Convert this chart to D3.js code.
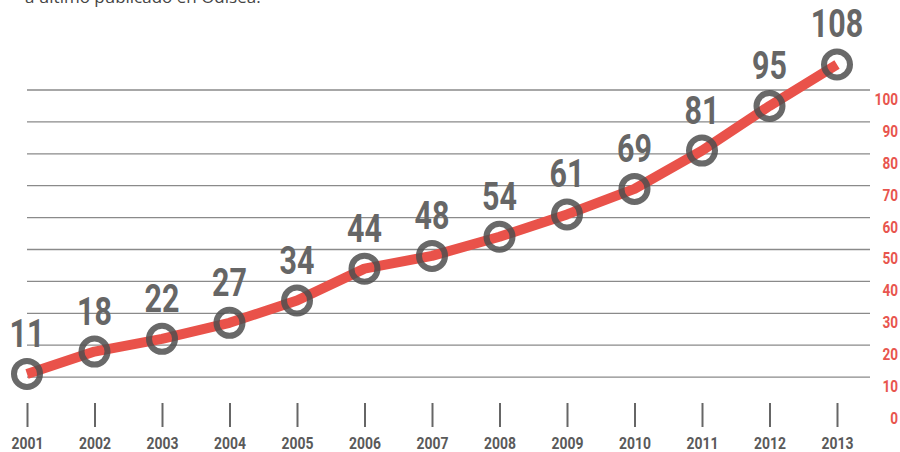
<!DOCTYPE html>
<html><head><meta charset="utf-8">
<script src="https://cdn.jsdelivr.net/npm/d3@7"></script>
<style>body{margin:0;background:#fff}svg{display:block}</style>
</head><body>
<svg id="c" width="900" height="452"></svg>
<script>
const years = ["2001","2002","2003","2004","2005","2006","2007","2008","2009","2010","2011","2012","2013"];
const values = [11,18,22,27,34,44,48,54,61,69,81,95,108];
const yTicks = [0,10,20,30,40,50,60,70,80,90,100];
const gridTicks = [10,20,30,40,50,60,70,80,90,100];
const caption = "a último publicado en Odisea.";

const svg = d3.select("#c");
const font = "Roboto,'Liberation Sans',sans-serif";
const x = d3.scalePoint().domain(years).range([27, 837]);
const y = d3.scaleLinear().domain([0, 100]).range([409, 90]);

svg.append("text").attr("x", 25).attr("y", 3)
  .attr("font-family", "'Open Sans',sans-serif").attr("font-size", 17).attr("fill", "#444")
  .text(caption);

// gridlines
svg.append("g").selectAll("line").data(gridTicks).join("line")
  .attr("x1", 27).attr("x2", 870)
  .attr("y1", d => y(d)).attr("y2", d => y(d))
  .attr("stroke", "#8a8a8a").attr("stroke-width", 1.3);

// right axis labels
const ra = d3.axisRight(y).tickValues(yTicks).tickSize(0).tickPadding(0);
const rg = svg.append("g").attr("transform", "translate(898,9)").call(ra);
rg.select(".domain").remove();
rg.selectAll("text").attr("text-anchor", "end").attr("x", 0)
  .attr("transform", "scale(0.8,1)")
  .attr("font-family", font).attr("font-weight", "bold").attr("font-size", 17).attr("fill", "#e8554e");

// bottom axis
const ba = d3.axisBottom(x).tickSize(24).tickPadding(10);
const bg = svg.append("g").attr("transform", "translate(0,403)").call(ba);
bg.select(".domain").remove();
bg.selectAll("line").attr("stroke", "#666").attr("stroke-width", 2);
bg.selectAll("text").attr("transform", "scale(0.82,1)")
  .attr("font-family", font).attr("font-weight", "bold")
  .attr("font-size", 17).attr("fill", "#5a5a5a");

// line
const line = d3.line().x((d, i) => x(years[i])).y(d => y(d));
svg.append("path").datum(values).attr("d", line)
  .attr("fill", "none").attr("stroke", "#e9524a").attr("stroke-width", 10)
  .attr("stroke-linejoin", "round");

// markers
svg.append("g").selectAll("circle").data(values).join("circle")
  .attr("cx", (d, i) => x(years[i])).attr("cy", d => y(d)).attr("r", 13)
  .attr("fill", "none").attr("stroke", "#4f4f4f").attr("stroke-opacity", 0.85).attr("stroke-width", 6);

// value labels
svg.append("g").selectAll("text").data(values).join("text")
  .attr("transform", (d, i) => `translate(${x(years[i])},${y(d) - 27}) scale(0.8,1)`)
  .attr("text-anchor", "middle")
  .attr("font-family", font).attr("font-weight", "bold").attr("font-size", 38).attr("fill", "#666")
  .text(d => d);
</script>
</body></html>
